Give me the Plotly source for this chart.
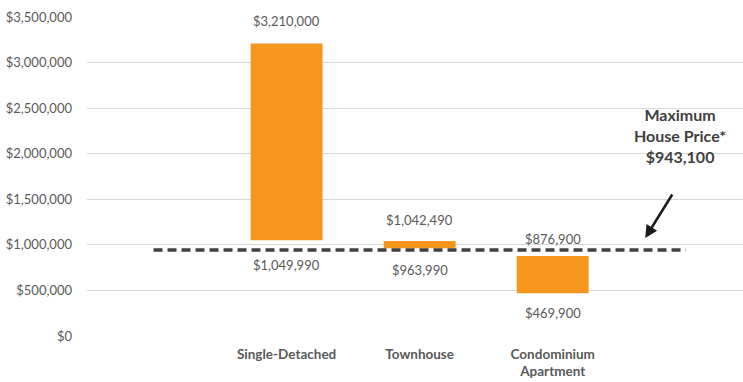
import plotly.graph_objects as go

categories = ["", "Single-Detached", "Townhouse", "Condominium<br>Apartment", " "]
bar_categories = ["Single-Detached", "Townhouse", "Condominium<br>Apartment"]
low_prices = [1049990, 963990, 469900]
high_prices = [3210000, 1042490, 876900]
max_price = 943100
max_label = "Maximum<br>House Price*<br>$943,100"
y_ticks = [0, 500000, 1000000, 1500000, 2000000, 2500000, 3000000, 3500000]

# label offsets (styling, pixels)
top_shift = [12, 11, 7]
bottom_shift = [15, 12, 10]

font_family = "Lato"
grey = "#595959"
orange = "#F7961D"

fig = go.Figure()

fig.add_trace(go.Bar(
    x=bar_categories,
    y=[h - l for h, l in zip(high_prices, low_prices)],
    base=low_prices,
    marker=dict(color=orange, line=dict(width=0)),
    width=0.54,
    hoverinfo="skip",
))

fig.add_trace(go.Scatter(
    x=categories,
    y=[max_price] * len(categories),
    mode="lines",
    line=dict(color="#404040", width=3.5, dash="9px,5px"),
    hoverinfo="skip",
))

for c, lo, hi, ts, bs in zip(bar_categories, low_prices, high_prices, top_shift, bottom_shift):
    fig.add_annotation(x=c, y=hi, text=f"${hi:,}", showarrow=False,
                       yanchor="bottom", yshift=ts,
                       font=dict(family=font_family, size=13, color=grey))
    fig.add_annotation(x=c, y=lo, text=f"${lo:,}", showarrow=False,
                       yanchor="top", yshift=-bs,
                       font=dict(family=font_family, size=13, color=grey))

fig.add_annotation(
    x=3.695, y=1.075e6, ax=28, ay=-45,
    xref="x", yref="y", text="", showarrow=True, arrowhead=2, arrowsize=1,
    arrowwidth=2.5, arrowcolor="#1a1a1a")

fig.add_annotation(
    x=3.96, y=2.2e6, xref="x", yref="y",
    text=max_label, showarrow=False,
    yanchor="middle", align="center",
    font=dict(family=font_family, size=16, color="#404040", weight="bold"))

fig.update_layout(
    width=743, height=382,
    margin=dict(l=87, r=0, t=17, b=46),
    plot_bgcolor="white", paper_bgcolor="white",
    showlegend=False,
    font=dict(family=font_family, color=grey),
    xaxis=dict(
        categoryorder="array", categoryarray=categories,
        range=[-0.5, 4.43],
        showgrid=False, zeroline=False, showline=False,
        tickfont=dict(family=font_family, size=13.5, color=grey, weight="bold"),
        ticks="", ticklabelstandoff=8,
    ),
    yaxis=dict(
        range=[0, 3500000],
        tickvals=y_ticks,
        ticktext=[f"${v:,}" for v in y_ticks],
        showgrid=True, gridcolor="#d9d9d9", gridwidth=1,
        zeroline=False, showline=False,
        tickfont=dict(family=font_family, size=13, color=grey),
        ticks="", ticklabelstandoff=14,
    ),
)

fig.write_html("out.html", config={"displayModeBar": False},
               post_script="document.body.style.margin='0';")
